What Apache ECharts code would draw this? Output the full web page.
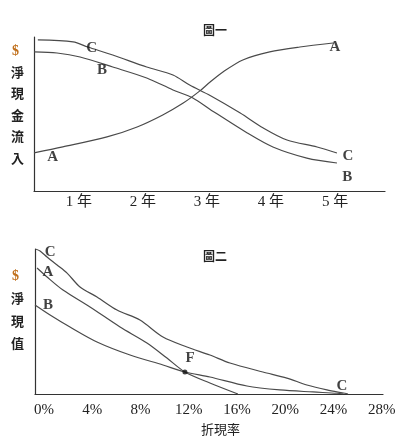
<!DOCTYPE html>
<html><head><meta charset="utf-8">
<script src="https://cdn.jsdelivr.net/npm/echarts@6/dist/echarts.min.js"></script>
<style>html,body{margin:0;padding:0;background:#fff;}#c{width:403px;height:445px;}</style>
</head><body><div id="c"></div>
<script>
// ---- Chart 1 (圖一): net cash inflow vs year ----
const yearTicks = [1, 2, 3, 4, 5];
const c1_A = [[0.3,2.47],[0.75,2.86],[1.44,3.51],[1.91,4.16],[2.31,4.94],[2.63,5.71],[2.89,6.5],[3.05,7.08],[3.25,7.73],[3.56,8.51],[3.98,9.03],[4.45,9.35],[4.97,9.61]];
const c1_B = [[0.3,9.03],[0.66,8.96],[1.02,8.70],[1.53,8.05],[2.06,7.34],[2.47,6.56],[2.78,6.04],[3.05,5.3],[3.63,3.77],[4.03,2.86],[4.56,2.14],[5.03,1.82]];
const c1_C = [[0.36,9.81],[0.91,9.68],[1.14,9.35],[1.53,8.83],[2.06,8.05],[2.47,7.53],[2.73,6.88],[3.05,6.2],[3.52,5.06],[3.88,4.09],[4.25,3.31],[4.72,2.86],[5.03,2.47]];
const c1_labels = [['C',1.20,9.29],['B',1.36,7.86],['A',0.59,2.21],['A',5.0,9.35],['C',5.2,2.27],['B',5.19,0.91]];

// ---- Chart 2 (圖二): NPV vs discount rate ----
const rateTicks = [0, 4, 8, 12, 16, 20, 24, 28];
const c2_A = [[-0.58,8.69],[0.25,8.07],[1.57,7.17],[3.81,6.0],[6.30,4.62],[8.53,3.52],[10.19,2.48],[11.68,1.52],[13.75,0.76],[16.07,0]];
const c2_B = [[-0.75,6.14],[0.50,5.45],[2.15,4.62],[4.39,3.59],[7.13,2.69],[9.86,2.0],[11.68,1.52],[13.75,1.17],[16.82,0.55],[19.55,0.28],[22.29,0.14],[24.27,0.05],[24.8,0]];
const c2_C = [[-0.7,10.0],[-0.33,9.86],[0.25,9.45],[1.08,8.90],[1.91,8.34],[2.98,7.38],[4.39,6.69],[6.05,5.79],[7.95,5.10],[9.86,3.93],[11.85,3.24],[13.75,2.69],[15.41,2.14],[18.14,1.52],[20.13,1.10],[21.79,0.62],[23.45,0.28],[24.94,0.05],[25.2,0]];
const c2_F = [[11.68,1.52]];
const c2_labels = [['C',0.5,9.79],['A',0.33,8.41],['B',0.33,6.14],['F',12.1,2.48],['C',24.7,0.55]];

const serif = "'Liberation Serif','Noto Sans CJK TC',serif";
const cjk = "'Noto Sans CJK TC','Liberation Serif',serif";
const lineColor = '#4a4a4a';
const axisColor = '#333';

function curve(data, xi){
  return {type:'line', xAxisIndex:xi, yAxisIndex:xi, data:data, smooth:0.3, showSymbol:false,
    lineStyle:{color:lineColor, width:1.2}, silent:true, z:2};
}
function letters(arr, xi){
  return {type:'scatter', xAxisIndex:xi, yAxisIndex:xi, symbolSize:1, itemStyle:{color:'rgba(0,0,0,0)'},
    data: arr.map(a=>({name:a[0], value:[a[1],a[2]]})), silent:true, z:5,
    label:{show:true, position:'inside', formatter:'{b}', fontFamily:serif, fontWeight:'bold', fontSize:15, color:'#111'}};
}
function xAx(grid, min, max, ticks, fmt, margin){
  return {type:'value', gridIndex:grid, min:min, max:max,
    axisLine:{show:true, onZero:false, lineStyle:{color:axisColor, width:1.2}},
    axisTick:{show:false}, splitLine:{show:false},
    axisLabel:{show:true, customValues:ticks, formatter:fmt, margin:margin, fontFamily:serif, fontSize:15, color:'#222'}};
}
function yAx(grid){
  return {type:'value', gridIndex:grid, min:0, max:10,
    axisLine:{show:true, onZero:false, lineStyle:{color:axisColor, width:1.2}},
    axisTick:{show:false}, splitLine:{show:false}, axisLabel:{show:false}};
}

const chart = echarts.init(document.getElementById('c'));
chart.setOption({
  animation:false,
  backgroundColor:'#fff',
  title:[
    {text:'圖一', left:198, top:19, textStyle:{fontFamily:cjk, fontSize:12, fontWeight:'bold', color:'#222'}},
    {text:'圖二', left:198, top:245, textStyle:{fontFamily:cjk, fontSize:12, fontWeight:'bold', color:'#222'}}
  ],
  grid:[
    {left:34, right:18, top:37, height:154},
    {left:35, right:20, top:249, height:145}
  ],
  xAxis:[
    xAx(0, 0.3, 5.78, yearTicks, v=>v+' 年', 4),
    xAx(1, -0.75, 28.1, rateTicks, v=>v+'%', 9)
  ],
  yAxis:[yAx(0), yAx(1)],
  graphic:[
    {type:'text', left:12, top:44, style:{text:'$', fontFamily:serif, fontWeight:'bold', fontSize:14, fill:'#c0701c'}},
    {type:'text', left:11, top:61, style:{text:'淨\n現\n金\n流\n入', fontFamily:cjk, fontWeight:'bold', fontSize:13, lineHeight:21.5, fill:'#222'}},
    {type:'text', left:12, top:269, style:{text:'$', fontFamily:serif, fontWeight:'bold', fontSize:14, fill:'#c0701c'}},
    {type:'text', left:11, top:287, style:{text:'淨\n現\n值', fontFamily:cjk, fontWeight:'bold', fontSize:13, lineHeight:22.5, fill:'#222'}},
    {type:'text', left:201, top:423, style:{text:'折現率', fontFamily:cjk, fontSize:13, fill:'#222'}}
  ],
  series:[
    curve(c1_A,0), curve(c1_B,0), curve(c1_C,0), letters(c1_labels,0),
    curve(c2_A,1), curve(c2_B,1), curve(c2_C,1), letters(c2_labels,1),
    {type:'scatter', xAxisIndex:1, yAxisIndex:1, data:c2_F, symbolSize:5, itemStyle:{color:'#111'}, silent:true, z:4}
  ]
});
</script></body></html>
